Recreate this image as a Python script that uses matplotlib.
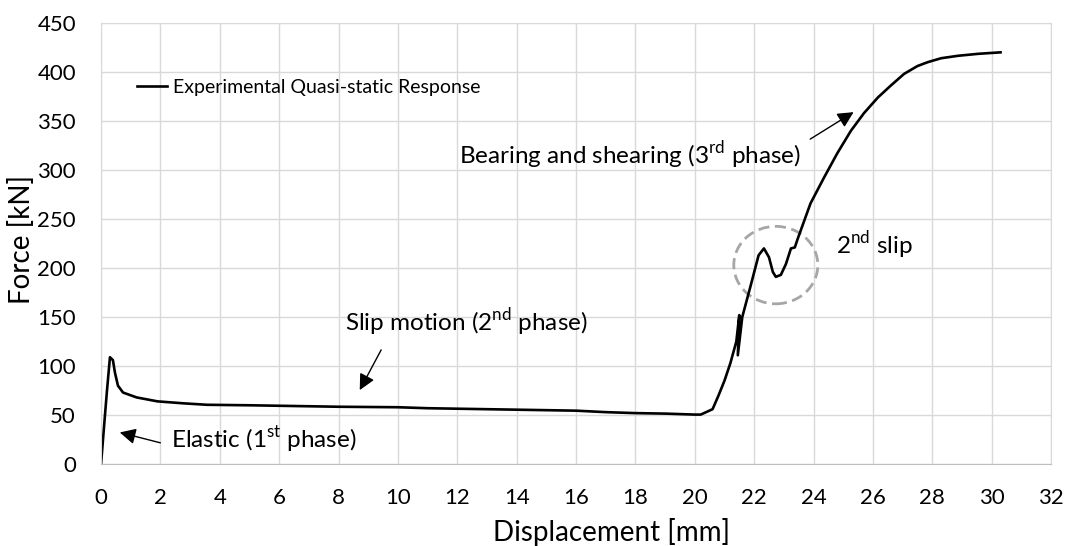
import matplotlib
matplotlib.use("Agg")
import matplotlib.pyplot as plt
from matplotlib.patches import Ellipse

plt.rcParams['font.family'] = ['Lato', 'DejaVu Sans']
plt.rcParams['mathtext.fontset'] = 'custom'
plt.rcParams['mathtext.rm'] = 'Lato'

# quasi-static force-displacement response
disp = [0.0, 0.1, 0.2, 0.3, 0.4, 0.47, 0.57, 0.74, 1.2, 1.9, 2.77, 3.57, 5.0,
        6.0, 7.0, 8.0, 10.0, 11.0, 12.0, 13.0, 14.0, 16.0, 17.0, 18.0, 19.0,
        20.0, 20.2, 20.6, 20.8, 21.0, 21.2, 21.4, 21.5, 21.45, 21.6, 21.9,
        22.15, 22.33, 22.5, 22.63, 22.73, 22.9, 23.07, 23.24, 23.37, 23.47,
        23.9, 24.35, 24.8, 25.26, 25.7, 26.17, 26.6, 27.05, 27.5, 27.85, 28.3,
        28.87, 29.55, 30.3]
force = [0, 38, 75, 109, 106, 93, 80, 73, 68, 64, 62, 60.5, 60, 59.5, 59,
         58.5, 58, 57, 56.5, 56, 55.5, 54.5, 53, 52, 51.5, 50.5, 50.5, 56, 70,
         85, 103, 125, 152, 111, 150, 184, 213, 220, 211, 196, 191, 193, 204,
         220, 221, 230, 266, 292, 317, 340, 358, 374, 386, 398, 406, 410, 414,
         416.5, 418.5, 420]

fig = plt.figure(figsize=(10.67, 5.46), dpi=100)
ax = fig.add_axes([0.0947, 0.150, 0.8903, 0.808])

ax.plot(disp, force, color='black', lw=1.9, label='Experimental Quasi-static Response')

ax.set_xlim(0, 32)
ax.set_ylim(0, 450)
ax.set_xticks(range(0, 33, 2))
ax.set_yticks(range(0, 451, 50))
ax.grid(True, color='#d9d9d9', lw=1)
ax.set_axisbelow(True)
for s in ax.spines.values():
    s.set_color('#d9d9d9')
ax.spines['bottom'].set_color('#bfbfbf')
ax.tick_params(length=0, labelsize=16, colors='black')
ax.tick_params(axis='x', pad=17)
ax.tick_params(axis='y', pad=18)

ax.set_xlabel('Displacement [mm]', fontsize=20, va='center')
ax.set_ylabel('Force [kN]', fontsize=20, va='center')
ax.xaxis.set_label_coords(0.537, -0.154)
ax.yaxis.set_label_coords(-0.084, 0.51)

ax.legend(loc='center left', bbox_to_anchor=(0.0379, 0.853), frameon=False,
          fontsize=14, handlelength=1.55, handletextpad=0.3,
          borderpad=0, borderaxespad=0)

arrow = dict(arrowstyle='-|>', color='black', lw=1, mutation_scale=24)
ax.annotate('', xy=(0.54, 33), xytext=(2.09, 21), arrowprops=arrow)
ax.text(2.36, 24.4, 'Elastic (1$^{\\mathrm{st}}$ phase)', fontsize=17.5,
        va='center', ha='left')
ax.annotate('', xy=(8.67, 73), xytext=(9.48, 119), arrowprops=arrow)
ax.text(8.23, 144.6, 'Slip motion (2$^{\\mathrm{nd}}$ phase)', fontsize=17.5,
        va='center', ha='left')
ax.annotate('', xy=(25.43, 360.5), xytext=(23.81, 330), arrowprops=arrow)
ax.text(23.57, 315, 'Bearing and shearing (3$^{\\mathrm{rd}}$ phase)', fontsize=17.5,
        va='center', ha='right')
ax.text(24.75, 223, '2$^{\\mathrm{nd}}$ slip', fontsize=17.5, va='center', ha='left')

ax.add_patch(Ellipse((22.73, 203), 2.83, 79, fill=False, ec='#a6a6a6',
                     lw=2, ls=(0, (4, 2))))

fig.savefig('out.png', dpi=100)
